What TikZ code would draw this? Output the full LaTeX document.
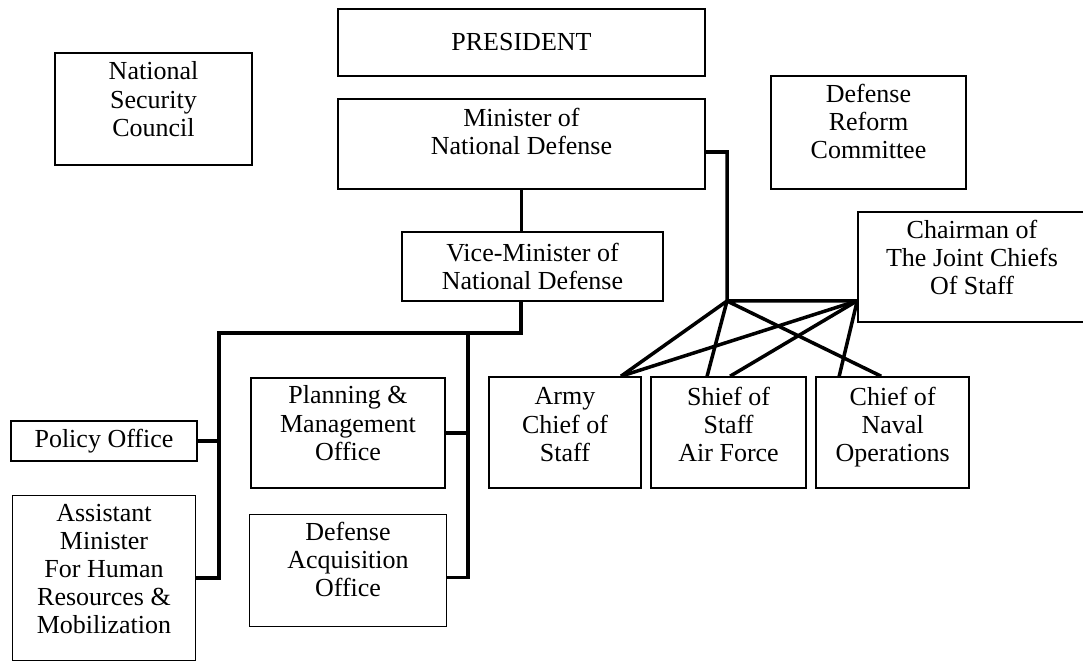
\documentclass[tikz,border=0pt]{standalone}
\usepackage{fontspec}
\setmainfont{Liberation Serif}
\usetikzlibrary{positioning,calc}

\begin{document}
\begin{tikzpicture}[
  font=\fontsize{14.8}{16}\selectfont,
  box/.style={
    draw=black,
    line width=0.9pt,
    align=center,
    inner sep=2pt
  },
  link/.style={line width=2pt, draw=black}
]
  \useasboundingbox (0,0) rectangle (21.66,-13.22);

  % Top of the chart
  \node[box, minimum width=7.34cm, minimum height=1.34cm] (president) at (10.43,-0.85) {PRESIDENT};
  \node[box, minimum width=3.94cm, minimum height=2.24cm, text depth=0.4cm] (nsc) at (3.07,-2.18) {National\\Security\\Council};
  \node[box, minimum width=7.34cm, minimum height=1.80cm, text depth=0.52cm] (mnd) at (10.43,-2.88) {Minister of\\National Defense};
  \node[box, minimum width=3.90cm, minimum height=2.26cm, text depth=0.46cm] (drc) at (17.37,-2.65) {Defense\\Reform\\Committee};
  \node[box, minimum width=5.22cm, minimum height=1.38cm] (vice) at (10.65,-5.33) {Vice-Minister of\\National Defense};
  \node[box, minimum width=4.56cm, minimum height=2.20cm, text depth=0.4cm] (jcs) at (19.44,-5.34) {Chairman of\\The Joint Chiefs\\Of Staff};

  % Offices under the vice-minister
  \node[box, minimum width=3.72cm, minimum height=0.80cm] (policy) at (2.08,-8.82) {Policy Office};
  \node[box, minimum width=3.66cm, minimum height=3.30cm, text depth=0.36cm, below=0.66cm of policy] (asst) {Assistant\\Minister\\For Human\\Resources \&\\Mobilization};
  \node[box, minimum width=3.88cm, minimum height=2.20cm, text depth=0.4cm] (plan) at (6.96,-8.66) {Planning \&\\Management\\Office};
  \node[box, minimum width=3.94cm, minimum height=2.24cm, text depth=0.44cm, below=0.5cm of plan] (acq) {Defense\\Acquisition\\Office};

  % Service chiefs
  \node[box, minimum width=3.04cm, minimum height=2.22cm, text depth=0.32cm] (army) at (11.30,-8.65) {Army\\Chief of\\Staff};
  \node[box, minimum width=3.10cm, minimum height=2.22cm, text depth=0.32cm, right=0.17cm of army] (shief) {Shief of\\Staff\\Air Force};
  \node[box, minimum width=3.06cm, minimum height=2.22cm, text depth=0.32cm, right=0.17cm of shief] (naval) {Chief of\\Naval\\Operations};

  % Bus lines
  \coordinate (vbus) at (10.42,-6.66);
  \coordinate (lbus) at (4.38,-6.66);
  \coordinate (rbus) at (9.36,-6.66);
  \coordinate (hub) at (14.54,-6.02);
  \coordinate (jcsfoot) at ([yshift=0.44cm]jcs.south west);

  \draw[link] (mnd.south) -- (mnd.south |- vice.north);
  \draw[link] (vbus |- vice.south) -- (vbus) -- (lbus) |- (asst.east);
  \draw[link] (policy.east) -- (policy.east -| lbus);
  \draw[link] (rbus) |- ([yshift=-0.14cm]acq.east);
  \draw[link] (plan.east) -- (plan.east -| rbus);

  % Command lines to the chiefs
  \draw[link] ([yshift=-0.16cm]mnd.east) -| (hub) -- (jcsfoot);
  \foreach \dx/\tgt in {1.12/army, -0.43/shief, -0.23/naval}
    \draw[link] (hub) -- ([xshift=\dx cm]\tgt.north);
  \foreach \dx/\tgt in {1.12/army, 0.03/shief, -1.07/naval}
    \draw[link] (jcsfoot) -- ([xshift=\dx cm]\tgt.north);
\end{tikzpicture}
\end{document}
